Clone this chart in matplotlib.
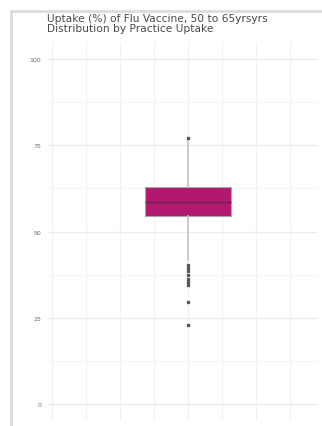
import matplotlib
matplotlib.use("Agg")
import matplotlib.pyplot as plt
from matplotlib.lines import Line2D

# Summary statistics of practice-level uptake (%)
median = 58.5
q1 = 54.5
q3 = 63.0
whisker_low = 41.7
whisker_high = 76.6
outliers = [77.0, 40.2, 39.4, 38.5, 37.3, 36.2, 35.3, 34.6, 29.6, 22.9]

y_ticks = [0, 25, 50, 75, 100]
y_minor = [12.5, 37.5, 62.5, 87.5]
title = "Uptake (%) of Flu Vaccine, 50 to 65yrsyrs\nDistribution by Practice Uptake"

fig = plt.figure(figsize=(3.22, 4.27), dpi=100)
ax = fig.add_axes([0.149, 0.0117, 0.8386, 0.8876])

stats = [{
    "med": median, "q1": q1, "q3": q3,
    "whislo": whisker_low, "whishi": whisker_high,
    "fliers": outliers,
}]
ax.bxp(stats, positions=[4], widths=2.55, patch_artist=True, showcaps=False,
       boxprops=dict(facecolor="#B0196F", edgecolor="#a8a8a8", linewidth=0.8),
       medianprops=dict(color="#6B1F4C", linewidth=1.0),
       whiskerprops=dict(color="#c4c4c4", linewidth=1.2),
       flierprops=dict(marker="s", markersize=1.4, markerfacecolor="#555555",
                       markeredgecolor="#555555", linestyle="none"),
       zorder=3)

ax.set_xlim(-0.12, 7.82)
ax.set_ylim(-5, 105)
ax.set_yticks(y_ticks)
ax.set_yticklabels([str(v) for v in y_ticks])
ax.set_yticks(y_minor, minor=True)
ax.set_xticks(range(8))
ax.set_xticklabels([])
ax.tick_params(axis="both", which="both", length=0)
ax.tick_params(axis="y", labelsize=4.5, labelcolor="#6a6a6a", pad=5)

ax.grid(True, which="major", axis="y", color="#ececec", linewidth=0.9, zorder=0)
ax.grid(True, which="minor", axis="y", color="#f4f4f4", linewidth=0.6, zorder=0)
ax.grid(True, which="major", axis="x", color="#f2f2f2", linewidth=0.9, zorder=0)
ax.set_axisbelow(True)
for s in ax.spines.values():
    s.set_visible(False)

fig.text(47 / 322, 1 - 14 / 427, title, ha="left", va="top", fontsize=7.7,
         color="#4a4a4a", linespacing=1.0)

# thin frame along the left and top edges
fig.add_artist(Line2D([10.5 / 322, 10.5 / 322], [0, 1 - 12 / 427],
                      transform=fig.transFigure, color="#dcdcdc", linewidth=2))
fig.add_artist(Line2D([10.5 / 322, 1], [1 - 12 / 427, 1 - 12 / 427],
                      transform=fig.transFigure, color="#dcdcdc", linewidth=2))

fig.savefig("out.png", dpi=100)
